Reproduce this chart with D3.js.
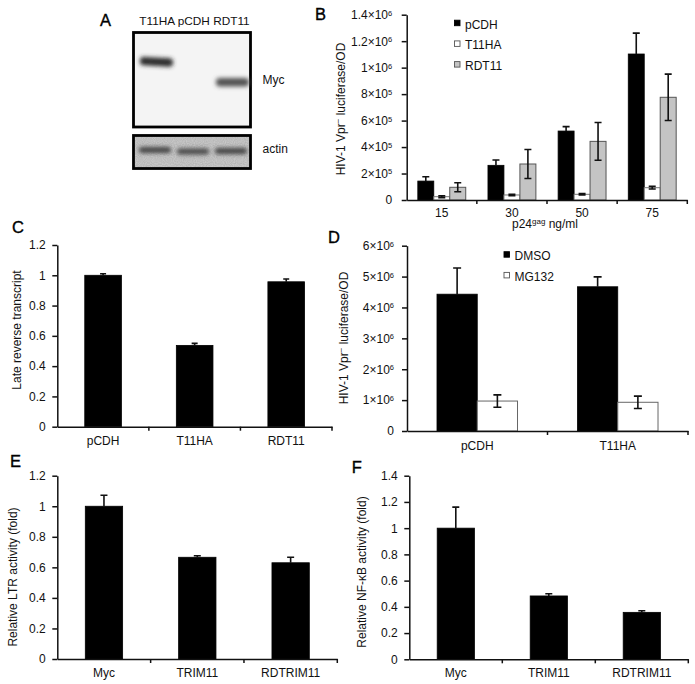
<!DOCTYPE html>
<html><head><meta charset="utf-8">
<script src="https://cdn.jsdelivr.net/npm/d3@7"></script>
<style>
html,body{margin:0;padding:0;background:#fff;}
svg{display:block;font-family:"Liberation Sans",Arial,Helvetica,sans-serif;}
</style></head><body>
<svg id="fig" width="695" height="684"></svg>
<script>
// ================= DATA =================
// Panel A (western blot)
const blotLanes = ["T11HA", "pCDH", "RDT11"];
const blotMycIntensity = [0.82, 0, 0.66];
const blotActinIntensity = [0.68, 0.66, 0.7];
const blotRows = ["Myc", "actin"];

// Panel B
const bDoses = ["15", "30", "50", "75"];
const bSeries = ["pCDH", "T11HA", "RDT11"];
const bPCDH = [1.43e5, 2.62e5, 5.21e5, 1.103e6];
const bPCDHErr = [0.33e5, 0.40e5, 0.33e5, 1.58e5];
const bT11HA = [0.25e5, 0.38e5, 0.43e5, 0.93e5];
const bT11HAErr = [0.07e5, 0.05e5, 0.05e5, 0.10e5];
const bRDT11 = [0.96e5, 2.72e5, 4.43e5, 7.76e5];
const bRDT11Err = [0.34e5, 1.10e5, 1.43e5, 1.75e5];
const bTicks = [0, 2e5, 4e5, 6e5, 8e5, 1e6, 1.2e6, 1.4e6];

// Panel C
const cCats = ["pCDH", "T11HA", "RDT11"];
const cVals = [1.0, 0.537, 0.957];
const cErr = [0.01, 0.013, 0.018];
const cTicks = [0, 0.2, 0.4, 0.6, 0.8, 1, 1.2];

// Panel D
const dCats = ["pCDH", "T11HA"];
const dSeries = ["DMSO", "MG132"];
const dDMSO = [4.43e6, 4.67e6];
const dDMSOErr = [0.85e6, 0.32e6];
const dMG132 = [0.97e6, 0.93e6];
const dMG132Err = [0.20e6, 0.20e6];
const dTicks = [0, 1e6, 2e6, 3e6, 4e6, 5e6, 6e6];

// Panel E
const eCats = ["Myc", "TRIM11", "RDTRIM11"];
const eVals = [1.0, 0.666, 0.63];
const eErr = [0.072, 0.01, 0.036];
const eTicks = [0, 0.2, 0.4, 0.6, 0.8, 1, 1.2];

// Panel F
const fCats = ["Myc", "TRIM11", "RDTRIM11"];
const fVals = [1.0, 0.483, 0.358];
const fErr = [0.16, 0.017, 0.012];
const fTicks = [0, 0.2, 0.4, 0.6, 0.8, 1, 1.2, 1.4];

// ================= DRAWING =================
const svg = d3.select("#fig");
const TICK_FS = "12px";
const TITLE_FS = "12px";
const FONT = '"Liberation Sans",Arial,sans-serif';

function sciLabel(sel) {
  sel.each(function(v) {
    const t = d3.select(this);
    t.text("");
    if (v === 0) { t.text("0"); return; }
    const exp = Math.floor(Math.log10(v) + 1e-9);
    const m = +(v / Math.pow(10, exp)).toFixed(1);
    t.append("tspan").text(m + "\u00d710");
    t.append("tspan").attr("dy", "-0.45em").attr("font-size", "7.5px").text(exp);
  });
}

function barPanel(o) {
  const g = svg.append("g");
  const y = d3.scaleLinear().domain([0, d3.max(o.ticks)]).range([o.y0, o.y1]);
  const gx = d3.scaleBand().domain(o.cats).range([o.x0, o.x1]).padding(0);
  const sx = d3.scaleBand().domain(o.series.map(s => s.name))
    .range([0, gx.bandwidth()]).paddingInner(0).paddingOuter(o.outer);

  o.series.forEach(s => {
    const data = o.cats.map((c, i) => ({ c, v: s.values[i], e: s.errors[i] }));
    g.append("g").selectAll("rect").data(data).join("rect")
      .attr("x", d => gx(d.c) + sx(s.name))
      .attr("y", d => y(d.v))
      .attr("width", sx.bandwidth())
      .attr("height", d => y(0) - y(d.v))
      .attr("fill", s.fill)
      .attr("stroke", s.stroke)
      .attr("stroke-width", s.sw);
  });
  o.series.forEach(s => {
    const data = o.cats.map((c, i) => ({ c, v: s.values[i], e: s.errors[i] }));
    const eg = g.append("g").attr("stroke", "#111").attr("stroke-width", 1.6).attr("fill", "none");
    const cx = d => gx(d.c) + sx(s.name) + sx.bandwidth() / 2;
    const cw = o.capW / 2;
    eg.selectAll("path").data(data).join("path")
      .attr("d", d => {
        const x = cx(d), t = y(d.v + d.e), b = y(Math.max(0, d.v - d.e));
        if (s.upOnly) return `M${x},${t}V${y(d.v)}M${x - cw},${t}H${x + cw}`;
        return `M${x},${t}V${b}M${x - cw},${t}H${x + cw}M${x - cw},${b}H${x + cw}`;
      });
  });

  // y axis
  const ya = d3.axisLeft(y).tickValues(o.ticks).tickSize(5).tickSizeOuter(0).tickPadding(o.yPad);
  if (!o.sci) ya.tickFormat(d3.format("~g"));
  const yg = g.append("g").attr("transform", `translate(${o.x0},0)`).call(ya);
  yg.attr("font-family", FONT);
  yg.selectAll("text").attr("font-size", TICK_FS).attr("fill", "#111");
  if (o.sci) yg.selectAll(".tick text").call(sciLabel);
  yg.select(".domain").attr("stroke", "#111").attr("stroke-width", 1.5);
  yg.selectAll(".tick line").attr("stroke", "#111").attr("stroke-width", 1.5);

  // x axis (labels at group centres)
  const xa = d3.axisBottom(gx).tickSize(0).tickSizeOuter(0).tickPadding(o.xPad);
  const xg = g.append("g").attr("transform", `translate(0,${o.y0})`).call(xa);
  xg.attr("font-family", FONT);
  xg.selectAll("text").attr("font-size", TICK_FS).attr("fill", "#111");
  xg.select(".domain").attr("stroke", "#111").attr("stroke-width", 1.5);
  // category boundary ticks
  g.append("g").selectAll("line").data(o.cats).join("line")
    .attr("x1", c => gx(c) + gx.bandwidth()).attr("x2", c => gx(c) + gx.bandwidth())
    .attr("y1", o.y0).attr("y2", o.y0 + 4)
    .attr("stroke", "#111").attr("stroke-width", 1.5);

  // y title
  const yt = g.append("text")
    .attr("transform", `translate(${o.titleX},${o.titleY}) rotate(-90)`)
    .attr("text-anchor", "middle").attr("font-size", TITLE_FS).attr("fill", "#111");
  o.title.forEach(p => {
    const ts = yt.append("tspan").text(p.t);
    if (p.sup) ts.attr("dy", "-4px").attr("font-size", "8px");
    if (p.after) ts.attr("dy", "4px");
  });
  return { g, y, gx, sx };
}

function legend(items, x, y, dy) {
  const lg = svg.append("g");
  items.forEach((it, i) => {
    lg.append("rect").attr("x", x).attr("y", y + i * dy - 8.3).attr("width", 5.5).attr("height", 5.5)
      .attr("fill", it.fill).attr("stroke", it.stroke).attr("stroke-width", 0.9);
    lg.append("text").attr("x", x + 10.5).attr("y", y + i * dy).attr("font-size", "12px")
      .attr("fill", "#111").text(it.name);
  });
}

function panelLetter(t, x, y) {
  svg.append("text").attr("x", x).attr("y", y).attr("font-size", "16.5px").attr("fill", "#000")
    .attr("stroke", "#000").attr("stroke-width", 0.35).text(t);
}

// ---------- Panel A: blot ----------
(function() {
  const defs = svg.append("defs");
  defs.append("filter").attr("id", "blur1").attr("x", "-30%").attr("y", "-150%").attr("width", "160%").attr("height", "400%")
    .append("feGaussianBlur").attr("stdDeviation", 1.9);
  const noise = defs.append("filter").attr("id", "grain");
  noise.append("feTurbulence").attr("type", "fractalNoise").attr("baseFrequency", 0.9).attr("numOctaves", 1).attr("seed", 3);
  noise.append("feColorMatrix").attr("type", "matrix")
    .attr("values", "0 0 0 0 0  0 0 0 0 0  0 0 0 0 0  0 0 0 0.18 0");
  noise.append("feComposite").attr("in2", "SourceGraphic").attr("operator", "in");

  const lane = d3.scaleBand().domain(blotLanes).range([136, 250]).paddingInner(0.1).paddingOuter(0.05);
  const g = svg.append("g");
  // top (Myc) panel
  g.append("rect").attr("x", 133.5).attr("y", 32.5).attr("width", 117).attr("height", 94.5)
    .attr("fill", "#f4f4f4").attr("stroke", "#000").attr("stroke-width", 2.8);
  // bottom (actin) panel
  g.append("rect").attr("x", 133.5).attr("y", 135.5).attr("width", 117).attr("height", 33)
    .attr("fill", "#d2d2d2").attr("stroke", "#000").attr("stroke-width", 2.8);
  g.append("rect").attr("x", 135).attr("y", 137).attr("width", 114).attr("height", 30)
    .attr("fill", "#fff").attr("filter", "url(#grain)");

  const bandY = { "T11HA": 57.5, "RDT11": 78 };
  const mycG = g.append("g").attr("filter", "url(#blur1)");
  blotLanes.forEach((l, i) => {
    const inten = blotMycIntensity[i];
    if (inten <= 0) return;
    const c = d3.interpolateRgb("#f4f4f4", "#000")(inten);
    mycG.append("rect").attr("x", lane(l) + 2).attr("y", bandY[l]).attr("width", lane.bandwidth() - 1)
      .attr("height", 8.5).attr("rx", 4).attr("fill", c)
      .attr("transform", i === 0 ? `rotate(3 ${lane(l) + 18} ${bandY[l] + 4})` : null);
  });
  const actG = g.append("g").attr("filter", "url(#blur1)");
  const actY = [147, 148.5, 148];
  blotLanes.forEach((l, i) => {
    const c = d3.interpolateRgb("#d2d2d2", "#000")(blotActinIntensity[i]);
    actG.append("rect").attr("x", lane(l) + 1).attr("y", actY[i]).attr("width", lane.bandwidth() - 2)
      .attr("height", 6).attr("rx", 3).attr("fill", c);
  });
  g.append("text").attr("x", 139.3).attr("y", 24.5).attr("font-size", "11.8px").attr("fill", "#111")
    .text(blotLanes.join(" "));
  g.append("text").attr("x", 262.5).attr("y", 83.5).attr("font-size", "12px").attr("fill", "#111").text(blotRows[0]);
  g.append("text").attr("x", 262.5).attr("y", 152.5).attr("font-size", "12px").attr("fill", "#111").text(blotRows[1]);
})();

// ---------- Panel B ----------
barPanel({
  x0: 406.7, x1: 687.3, y0: 200, y1: 14.7, ticks: bTicks, cats: bDoses, outer: 0.696,
  series: [
    { name: bSeries[0], values: bPCDH, errors: bPCDHErr, fill: "#000", stroke: "#000", sw: 0.8, upOnly: true },
    { name: bSeries[1], values: bT11HA, errors: bT11HAErr, fill: "#fff", stroke: "#777", sw: 1 },
    { name: bSeries[2], values: bRDT11, errors: bRDT11Err, fill: "#c4c4c4", stroke: "#555", sw: 1 }
  ],
  capW: 7, sci: true, yPad: 9.5, xPad: 8.3,
  titleX: 345, titleY: 109,
  title: [{ t: "HIV-1 Vpr" }, { t: "\u2212", sup: true }, { t: " luciferase/OD", after: true }]
});
svg.append("text").attr("x", 545).attr("y", 228).attr("text-anchor", "middle").attr("font-size", TITLE_FS)
  .attr("fill", "#111")
  .call(t => { t.append("tspan").text("p24"); t.append("tspan").attr("dy", "-4px").attr("font-size", "8px").text("gag");
               t.append("tspan").attr("dy", "4px").text(" ng/ml"); });
legend([
  { name: bSeries[0], fill: "#000", stroke: "#000" },
  { name: bSeries[1], fill: "#fff", stroke: "#555" },
  { name: bSeries[2], fill: "#c4c4c4", stroke: "#555" }
], 454.5, 28.5, 20.7);

// ---------- Panel C ----------
barPanel({
  x0: 57.3, x1: 332, y0: 426.7, y1: 245, ticks: cTicks, cats: cCats, outer: 0.75,
  series: [{ name: "C", values: cVals, errors: cErr, fill: "#000", stroke: "#000", sw: 0.8, upOnly: true }],
  capW: 6, sci: false, yPad: 6.5, xPad: 10,
  titleX: 20.5, titleY: 330, title: [{ t: "Late reverse transcript" }]
});

// ---------- Panel D ----------
barPanel({
  x0: 407, x1: 688, y0: 431, y1: 245.7, ticks: dTicks, cats: dCats, outer: 0.745,
  series: [
    { name: dSeries[0], values: dDMSO, errors: dDMSOErr, fill: "#000", stroke: "#000", sw: 0.8, upOnly: true },
    { name: dSeries[1], values: dMG132, errors: dMG132Err, fill: "#fff", stroke: "#666", sw: 1 }
  ],
  capW: 8, sci: true, yPad: 8, xPad: 10,
  titleX: 348, titleY: 338,
  title: [{ t: "HIV-1 Vpr" }, { t: "\u2212", sup: true }, { t: " luciferase/OD", after: true }]
});
legend([
  { name: dSeries[0], fill: "#000", stroke: "#000" },
  { name: dSeries[1], fill: "#fff", stroke: "#555" }
], 504, 260, 20.7);

// ---------- Panel E ----------
barPanel({
  x0: 57.3, x1: 337.3, y0: 659, y1: 475.7, ticks: eTicks, cats: eCats, outer: 0.75,
  series: [{ name: "E", values: eVals, errors: eErr, fill: "#000", stroke: "#000", sw: 0.8, upOnly: true }],
  capW: 7, sci: false, yPad: 6.5, xPad: 9.5,
  titleX: 17, titleY: 577, title: [{ t: "Relative LTR activity (fold)" }]
});

// ---------- Panel F ----------
barPanel({
  x0: 409.3, x1: 688.3, y0: 659.3, y1: 475.7, ticks: fTicks, cats: fCats, outer: 0.75,
  series: [{ name: "F", values: fVals, errors: fErr, fill: "#000", stroke: "#000", sw: 0.8, upOnly: true }],
  capW: 7, sci: false, yPad: 6.5, xPad: 9.5,
  titleX: 366, titleY: 572, title: [{ t: "Relative NF-\u03baB activity (fold)" }]
});

// ---------- Panel letters ----------
panelLetter("A", 100, 25.7);
panelLetter("B", 315, 20);
panelLetter("C", 12, 233.3);
panelLetter("D", 328, 243.3);
panelLetter("E", 10, 466.7);
panelLetter("F", 351.7, 473.3);
</script>
</body></html>
